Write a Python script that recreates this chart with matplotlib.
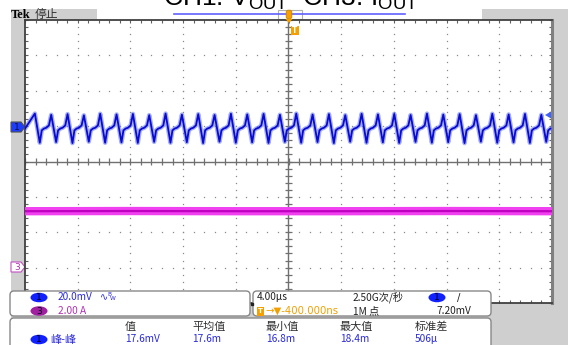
import matplotlib
matplotlib.use("Agg")
import matplotlib.pyplot as plt
from matplotlib.patches import Rectangle, FancyBboxPatch, Polygon, Ellipse
import numpy as np

plt.rcParams['font.family'] = ['Noto Sans CJK SC', 'DejaVu Sans']

# ---------------- data ----------------
# CH1 (V_OUT ripple) : peak times (us) and per-cycle levels (mV, relative to CH1 ground)
ch1_peak_t = [-19.25, -18.01, -16.77, -15.53, -14.29, -13.05, -11.81, -10.57,
              -9.33, -8.09, -6.85, -5.61, -4.37, -3.13, -1.89, -0.65,
              0.59, 1.83, 3.07, 4.31, 5.55, 6.79, 8.03, 9.27,
              10.51, 11.75, 12.99, 14.23, 15.47, 16.71, 17.95, 19.19]
ch1_peak_mv = [7.5, 6.8, 7.2, 6.5, 7.4, 7.0, 7.3, 6.6, 7.5, 6.9, 7.2, 6.7, 7.4, 7.0, 7.3, 6.8,
               7.5, 6.9, 7.2, 6.6, 7.4, 7.0, 7.3, 6.7, 7.5, 6.9, 7.2, 6.6, 7.4, 7.0, 7.3, 6.8]
ch1_trough_mv = [-9.0, -8.6, -9.2, -8.4, -9.0, -8.8, -9.1, -8.5, -9.0, -8.7, -9.2, -8.4, -9.0, -8.8, -9.1, -8.5,
                 -9.0, -8.6, -9.2, -8.4, -9.0, -8.8, -9.1, -8.5, -9.0, -8.7, -9.2, -8.4, -9.0, -8.8, -9.1, -8.5]
ch1_shape_phase = [0.00, 0.30, 0.42, 0.55, 0.70, 0.86]      # fraction of period after a peak
ch1_shape_level = ['peak', 'trough', -2.0, -1.0, -0.5, 0.8]   # mV (or named level)
ch1_start_mv = -1.0
ch1_period_us = 1.24

# CH3 (I_OUT) : flat current level (A)
ch3_t = [-20.0, -12.0, -4.0, 4.0, 12.0, 20.0]
ch3_amp = [3.15, 3.16, 3.15, 3.15, 3.16, 3.15]

# scope settings
us_per_div = 4.0
ch1_mv_per_div = 20.0
ch3_a_per_div = 2.0
ch1_offset_div = 0.98
ch3_offset_div = -2.98

hdr_labels = ['值', '平均值', '最小值', '最大值', '标准差']
meas_values = ['17.6mV', '17.6m', '16.8m', '18.4m', '506µ']

# ---------------- figure ----------------
W, H = 568, 345
fig = plt.figure(figsize=(W / 100, H / 100), dpi=100)
fig.patch.set_facecolor('white')

GRAY = '#cfcfcf'
BLUE_T = '#2a2ad8'

bg = fig.add_axes([0, 0, 1, 1])
bg.set_xlim(0, W); bg.set_ylim(H, 0); bg.axis('off'); bg.set_zorder(0)

# gray scope body
bg.add_patch(Rectangle((11, 9), W - 11, H - 9, facecolor=GRAY, edgecolor='none'))
# top status bar white box
bg.add_patch(Rectangle((97, 9), 385, 11, facecolor='white', edgecolor='none'))
bg.plot([174, 405], [14, 14], color='#6060ff', lw=1.2)
bg.add_patch(Rectangle((278, 10), 24, 9, facecolor='none', edgecolor='#b0b0b0', lw=0.8))
bg.text(11, 14.5, 'Tek', fontsize=9, fontweight='bold', family='Liberation Serif',
        va='center', ha='left', color='black')
bg.text(35, 14.5, '停止', fontsize=8.5, va='center', ha='left', color='#303030')

# title (partially cut off at the top, as in the screenshot)
bg.text(290.5, 6, r'CH1: V$_{\mathregular{OUT}}$  CH3: I$_{\mathregular{OUT}}$', fontsize=19,
        family='Liberation Sans', ha='center', va='baseline', color='black')

# channel markers on the left
bg.add_patch(Polygon([(11, 122), (21, 122), (25, 127), (21, 132), (11, 132)],
                     closed=True, facecolor='#1d3cff', edgecolor='#505050', lw=0.8))
bg.text(17, 127.5, '1', fontsize=6.5, ha='center', va='center', color='#101030', family='DejaVu Sans')
bg.add_patch(Polygon([(11, 262), (21, 262), (25, 267), (21, 272), (11, 272)],
                     closed=True, facecolor='white', edgecolor='#c050c0', lw=0.8))
bg.text(17, 267.5, '3', fontsize=6.5, ha='center', va='center', color='#b030b0', family='DejaVu Sans')

# ---------------- graticule ----------------
gx0, gx1, gy0, gy1 = 25, 552, 20, 303
ax = fig.add_axes([gx0 / W, 1 - gy1 / H, (gx1 - gx0) / W, (gy1 - gy0) / H])
ax.set_zorder(1)
ax.set_facecolor('white')
ax.set_xlim(-5 * us_per_div, 5 * us_per_div)
ax.set_ylim(-4, 4)

minor_x = np.arange(-20, 20.01, us_per_div / 5)
minor_y = np.arange(-4, 4.01, 0.2)
for k in range(-4, 5):
    if k == 0:
        continue
    ax.plot(np.full(minor_y.size, k * us_per_div), minor_y, ls='none', marker='s', ms=0.9,
            mec='none', mfc='#8a8a8a', zorder=1)
for k in range(-3, 4):
    if k == 0:
        continue
    ax.plot(minor_x, np.full(minor_x.size, k), ls='none', marker='s', ms=0.9,
            mec='none', mfc='#8a8a8a', zorder=1)
ax.axhline(0, color='#707070', lw=1.0, zorder=1)
ax.axvline(0, color='#707070', lw=1.0, zorder=1)
ax.vlines(minor_x, -0.09, 0.09, color='#707070', lw=0.9, zorder=1)
ax.hlines(minor_y, -0.23, 0.23, color='#707070', lw=0.9, zorder=1)

ax.set_xticks(minor_x)
ax.set_yticks(minor_y)
ax.tick_params(direction='in', length=2.5, width=0.8, color='#606060',
               top=True, right=True, labelbottom=False, labelleft=False)
for s in ax.spines.values():
    s.set_color('#404040'); s.set_linewidth(1.3)
ax.spines['right'].set_color('#808080'); ax.spines['right'].set_linewidth(2.2)

# CH1 waveform
t_pts, v_pts = [-20.0], [ch1_start_mv]
for i, tp in enumerate(ch1_peak_t):
    for ph, lv in zip(ch1_shape_phase, ch1_shape_level):
        tt = tp + ph * ch1_period_us
        if tt > 20:
            continue
        if lv == 'peak':
            vv = ch1_peak_mv[i]
        elif lv == 'trough':
            vv = ch1_trough_mv[i]
        else:
            vv = lv
        t_pts.append(tt); v_pts.append(vv)
t_pts = np.array(t_pts); v_pts = np.array(v_pts)
y1 = ch1_offset_div + v_pts / ch1_mv_per_div
ax.plot(t_pts, y1, color='#5a6cff', lw=3.2, alpha=0.55, zorder=3)
ax.plot(t_pts, y1, color='#0a0acc', lw=1.3, zorder=4)

# CH3 waveform
y3 = ch3_offset_div + np.array(ch3_amp) / ch3_a_per_div
ax.plot(ch3_t, y3, color='#f040f0', lw=6.0, zorder=3, solid_capstyle='butt')
ax.plot(ch3_t, y3, color='#c000c0', lw=1.6, zorder=4, solid_capstyle='butt')

# ---------------- overlay (panels, markers) ----------------
ov = fig.add_axes([0, 0, 1, 1])
ov.set_xlim(0, W); ov.set_ylim(H, 0); ov.axis('off'); ov.set_zorder(2)
ov.patch.set_alpha(0)

# trigger markers
ov.add_patch(FancyBboxPatch((286.5, 10.5), 5, 8, boxstyle='round,pad=0.3,rounding_size=2',
                            facecolor='#f5a000', edgecolor='#d08000', lw=0.6))
ov.add_patch(Polygon([(285.5, 19), (292.5, 19), (289, 23)], closed=True,
                     facecolor='#f5a000', edgecolor='none'))
ov.add_patch(Rectangle((291, 26), 8, 9, facecolor='#f5a000', edgecolor='none'))
ov.text(295, 30.8, 'T', fontsize=5.5, ha='center', va='center', color='white', fontweight='bold',
        family='DejaVu Sans')
# trigger level arrow (right)
ov.add_patch(Polygon([(545, 115), (551, 111.5), (551, 118.5)], closed=True,
                     facecolor='#4060ff', edgecolor='none'))

def panel(x0, y0, x1, y1):
    ov.add_patch(FancyBboxPatch((x0, y0), x1 - x0, y1 - y0,
                                boxstyle='round,pad=0,rounding_size=4',
                                facecolor='white', edgecolor='#888888', lw=1.0))

def oval(cx, cy, color, label, tcolor='#000020'):
    ov.add_patch(Ellipse((cx, cy), 17, 9.5, facecolor=color, edgecolor='none'))
    ov.text(cx, cy + 0.5, label, fontsize=6.5, ha='center', va='center', color=tcolor,
            family='DejaVu Sans')

FS = 7.3
panel(10, 291, 250, 316)
panel(253, 291, 491, 316)
panel(10, 318, 491, 352)
ov.plot([251.5], [304], marker='s', ms=1.5, color='#202020')

oval(39, 297.5, '#1020ff', '1')
ov.text(58, 297.5, '20.0mV', fontsize=FS, color=BLUE_T, va='center', ha='left')
ov.text(100, 297, '∿', fontsize=7, color=BLUE_T, va='center', ha='left', family='DejaVu Sans')
ov.text(107, 295, 'B', fontsize=4.2, color=BLUE_T, va='center', ha='left', family='DejaVu Sans')
ov.text(110, 298.5, 'W', fontsize=4.2, color=BLUE_T, va='center', ha='left', family='DejaVu Sans')
oval(39, 311, '#a020a0', '3')
ov.text(58, 311, '2.00 A', fontsize=FS, color='#b030b0', va='center', ha='left')

ov.text(257, 297.5, '4.00µs', fontsize=FS, color='#202020', va='center', ha='left')
ov.text(353, 297.5, '2.50G次/秒', fontsize=FS, color='#202020', va='center', ha='left')
oval(437, 297.5, '#1020ff', '1')
ov.text(457, 297.5, '/', fontsize=FS, color='#202020', va='center', ha='left', family='DejaVu Sans')
ov.add_patch(Rectangle((257, 306.5), 7, 9, facecolor='#f5a000', edgecolor='none'))
ov.text(260.5, 311, 'T', fontsize=5, ha='center', va='center', color='white', fontweight='bold',
        family='DejaVu Sans')
ov.text(265, 311, '→▼-400.000ns', fontsize=FS, color='#f0a000', va='center', ha='left',
        family=['DejaVu Sans'])
ov.text(353, 311, '1M 点', fontsize=FS, color='#202020', va='center', ha='left')
ov.text(471, 311, '7.20mV', fontsize=FS, color='#202020', va='center', ha='right')

hdr_x = [125, 192, 266, 340, 415]
for x, lab in zip(hdr_x, hdr_labels):
    ov.text(x, 327, lab, fontsize=8, color='#303030', va='center', ha='left')
oval(39, 339.5, '#1020ff', '1')
ov.text(50, 339.5, '峰-峰', fontsize=8, color=BLUE_T, va='center', ha='left')
for x, val in zip(hdr_x, meas_values):
    ov.text(x, 339.5, val, fontsize=FS, color=BLUE_T, va='center', ha='left')

fig.savefig('out.png', dpi=100)
